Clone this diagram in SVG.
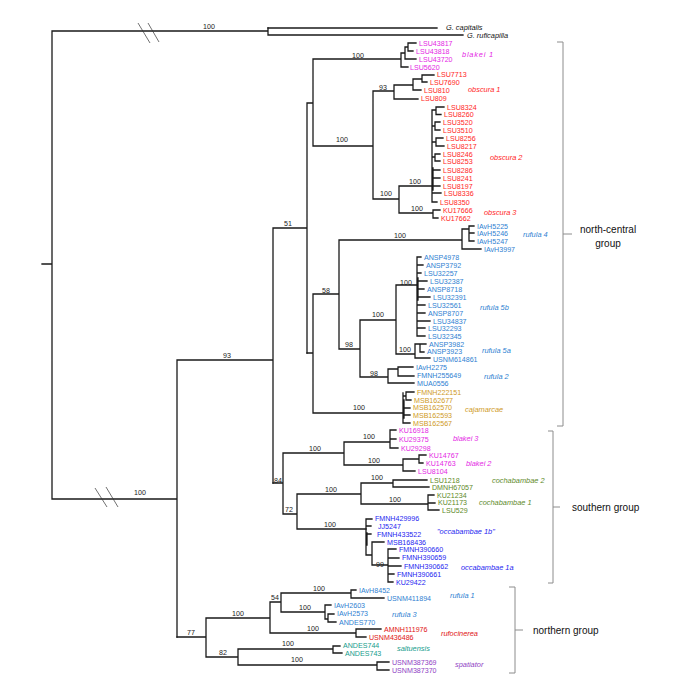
<svg xmlns="http://www.w3.org/2000/svg" width="684" height="700" viewBox="0 0 684 700">
<style>
text{font-family:"Liberation Sans",Arial,sans-serif;font-size:7.1px}
.s{fill:#222;text-anchor:middle}
.sp{font-style:italic;font-size:7.4px}
.grp{font-size:10px;fill:#111}
.br{fill:none;stroke:#1a1a1a;stroke-width:1.3;stroke-linecap:square}
.bk{fill:none;stroke:#8c8c8c;stroke-width:1}
.sl{fill:none;stroke:#333;stroke-width:0.7}
.mg{fill:#e41fe4}.rd{fill:#ff1e1e}.bl{fill:#2f7fd2}.gd{fill:#cf9a1e}.gr{fill:#5e8a2a}.ob{fill:#1e1ef0}.rc{fill:#e01414}.tl{fill:#179c8c}.pu{fill:#8f3fc4}.k{fill:#111}
</style>
<rect width="684" height="700" fill="#fff"/>
<g id="branches">
<path class="br" d="M42,264H52M52,31V499M52,31H268M268,28V35M268,35H463M52,499H177M177,360V637M177,360H273M273,228V483M273,228H307M307,103V353M307,103H313M313,59V146M313,59H401M401,53V67M401,67H408M401,53H405M405,47V59M405,59H416M405,47H408M408,43V51M408,43H416M408,51H413M313,146H373M373,91V199M373,91H394M394,85V99M394,99H418M394,85H413M413,79V90M413,90H421M413,79H422M422,75V82M422,75H434M422,82H427M373,199H399M399,186V213M399,186H432M399,213H433M433,210V218M433,210H440M433,218H438"/>
<path class="br" d="M268,28H437" stroke="#555"/>
<path class="br" d="M432,110V202M433,168V190M432,110H436M436,107V114.5M436,107H444M436,114.5H441M432,126H435M435,122V130M435,122H440M435,130H440M432,142H436M436,138V146M436,138H443M436,146H444M432,157H435M435,154V161M435,154H440M435,161H440M432,170H440M432,178H440M432,186H440M432,193H441M432,202H437"/>
<path class="br" d="M307,353H313M313,294V413M313,294H339M339,240V349M339,240H462M462,229V249M462,229H469M469,226V241M469,226H474M469,233H474M469,241H474M462,249H481M339,349H360M360,320V377M360,320H396M396,285V354M396,285H417M396,354H415M415,344V358M415,344H420M420,344V352M420,344H426M420,352H424M415,358H430M360,377H388M388,369V383M388,369H398M398,367V376M398,367H413M398,376H414M388,383H414M313,413H403"/>
<path class="br" d="M417,257V336M418,278V300M417,257H421M417,265H423M417,273H421M417,281H427M417,289H424M417,297H430M417,305H425M417,313H425M417,321H430M417,328H425M417,336H425"/>
<path class="br" d="M403,393V423M404,400V418M403,396H406M406,392V400M406,392H414M406,400H411M403,408H410M403,415H410M403,423H410"/>
<path class="br" d="M273,483H283M283,453V514M283,453H344M344,442V465M344,442H390M390,430V448M390,430H396M390,439H396M390,448H398M344,465H403M403,459V471M403,459H419M419,455V463M419,455H426M419,463H423M403,471H415M283,514H297M297,494V529M297,494H361M361,483V504M361,483H393M393,480V487M393,480H427M393,487H429M361,504H428M428,495V510M428,495H434M428,503H435M428,510H439M297,529H366"/>
<path class="br" d="M366,519V555M367,533V545M366,519H372M366,526H371M366,534H371M366,555H372M372,542V565M372,542H384M372,565H388M388,549V582M388,549H396M388,558H399M388,566H401M388,574H394M388,582H393"/>
<path class="br" d="M177,637H206M206,618V657M206,618H270M270,602V633M270,602H281M281,593V612M281,593H351M351,590V598M351,590H356M351,598H384M281,612H325M325,605V619M325,605H331M325,619H328M328,614V622M328,614H334M328,622H336M270,633H356M356,629V637M356,629H381M356,637H366M206,657H238M238,649V665M238,649H333M333,646V653M333,646H340M333,653H342M238,665H377M377,662V670M377,662H389M377,670H389"/>
<path class="sl" d="M138,23L150,43M148,23L159,42M95,488L107,507M106,487L118,507"/>
</g>
<g id="brackets">
<path class="bk" d="M557,42H563V426H557M563,234H572"/>
<path class="bk" d="M548,431H553V583H548M553,507H560"/>
<path class="bk" d="M509,587H515V673H509M515,630H523"/>
</g>
<g id="support">
<text class="s" x="209" y="28.5">100</text>
<text class="s" x="140" y="494.5">100</text>
<text class="s" x="227" y="357.5">93</text>
<text class="s" x="191" y="634.5">77</text>
<text class="s" x="288" y="225.5">51</text>
<text class="s" x="278" y="482.5">84</text>
<text class="s" x="358" y="57.5">100</text>
<text class="s" x="342" y="141.5">100</text>
<text class="s" x="383" y="89.5">93</text>
<text class="s" x="386" y="195.5">100</text>
<text class="s" x="415" y="183.5">100</text>
<text class="s" x="417" y="210.5">100</text>
<text class="s" x="400" y="237.5">100</text>
<text class="s" x="326" y="292.5">58</text>
<text class="s" x="349" y="346.5">98</text>
<text class="s" x="378" y="316.5">100</text>
<text class="s" x="406" y="284.5">100</text>
<text class="s" x="405" y="351.5">100</text>
<text class="s" x="374" y="375.5">98</text>
<text class="s" x="359" y="409.5">100</text>
<text class="s" x="315" y="450.5">100</text>
<text class="s" x="369" y="438.5">100</text>
<text class="s" x="374" y="462.5">100</text>
<text class="s" x="289" y="511.5">72</text>
<text class="s" x="331" y="491.5">100</text>
<text class="s" x="377" y="479.5">100</text>
<text class="s" x="395" y="501.5">100</text>
<text class="s" x="330" y="526.5">100</text>
<text class="s" x="380" y="566.5">99</text>
<text class="s" x="238" y="615.5">100</text>
<text class="s" x="275" y="599.5">54</text>
<text class="s" x="319" y="590.5">100</text>
<text class="s" x="305" y="609.5">100</text>
<text class="s" x="313" y="630.5">100</text>
<text class="s" x="223" y="654.5">82</text>
<text class="s" x="288" y="645.5">100</text>
<text class="s" x="297" y="661.5">100</text>
</g>
<g id="outgroup">
<text class="k sp" x="446" y="30">G. capitalis</text>
<text class="k sp" x="467" y="37.5">G. ruficapilla</text>
</g>
<g id="blakei1" class="mg">
<text x="419" y="45.6">LSU43817</text>
<text x="416" y="53.6">LSU43818</text>
<text x="419" y="61.6">LSU43720</text>
<text x="410" y="69.6">LSU5620</text>
<text class="sp" x="462" y="56.6" letter-spacing="0.8">blakei 1</text>
</g>
<g id="obscura1" class="rd">
<text x="437" y="77.1">LSU7713</text>
<text x="430" y="84.6">LSU7690</text>
<text x="424" y="92.6">LSU810</text>
<text x="421" y="100.6">LSU809</text>
<text class="sp" x="468" y="91.6">obscura 1</text>
</g>
<g id="obscura2" class="rd">
<text x="447" y="109.6">LSU8324</text>
<text x="444" y="117.1">LSU8260</text>
<text x="443" y="124.6">LSU3520</text>
<text x="443" y="132.6">LSU3510</text>
<text x="446" y="140.6">LSU8256</text>
<text x="447" y="148.6">LSU8217</text>
<text x="443" y="156.6">LSU8246</text>
<text x="443" y="164.1">LSU8253</text>
<text x="443" y="172.6">LSU8286</text>
<text x="443" y="180.6">LSU8241</text>
<text x="443" y="188.6">LSU8197</text>
<text x="444" y="196.1">LSU8336</text>
<text x="440" y="204.6">LSU8350</text>
<text class="sp" x="490" y="159.6">obscura 2</text>
</g>
<g id="obscura3" class="rd">
<text x="443" y="212.6">KU17666</text>
<text x="441" y="220.6">KU17662</text>
<text class="sp" x="484" y="214.6">obscura 3</text>
</g>
<g id="rufula4" class="bl">
<text x="477" y="228.6">IAvH5225</text>
<text x="477" y="236.1">IAvH5246</text>
<text x="477" y="243.6">IAvH5247</text>
<text x="484" y="251.6">IAvH3997</text>
<text class="sp" x="523" y="236.6">rufula 4</text>
</g>
<g id="rufula5b" class="bl">
<text x="424" y="259.6">ANSP4978</text>
<text x="426" y="267.6">ANSP3792</text>
<text x="424" y="275.6">LSU32257</text>
<text x="430" y="283.6">LSU32387</text>
<text x="427" y="291.6">ANSP8718</text>
<text x="433" y="299.6">LSU32391</text>
<text x="428" y="307.6">LSU32561</text>
<text x="428" y="315.6">ANSP8707</text>
<text x="433" y="323.6">LSU34837</text>
<text x="428" y="331.1">LSU32293</text>
<text x="428" y="338.6">LSU32345</text>
<text class="sp" x="480" y="309.6">rufula 5b</text>
</g>
<g id="rufula5a" class="bl">
<text x="429" y="346.6">ANSP3982</text>
<text x="427" y="354.1">ANSP3923</text>
<text x="433" y="361.6">USNM614861</text>
<text class="sp" x="482" y="352.6">rufula 5a</text>
</g>
<g id="rufula2" class="bl">
<text x="416" y="369.6">IAvH2275</text>
<text x="417" y="378.1">FMNH255649</text>
<text x="417" y="385.6">MUA0556</text>
<text class="sp" x="484" y="378.6">rufula 2</text>
</g>
<g id="cajamarcae" class="gd">
<text x="417" y="394.6">FMNH222151</text>
<text x="414" y="402.6">MSB162677</text>
<text x="413" y="410.1">MSB162570</text>
<text x="413" y="417.6">MSB162593</text>
<text x="413" y="425.6">MSB162567</text>
<text class="sp" x="465" y="411.6">cajamarcae</text>
</g>
<g id="blakei3" class="mg">
<text x="399" y="432.6">KU16918</text>
<text x="399" y="441.6">KU29375</text>
<text x="401" y="450.6">KU29298</text>
<text class="sp" x="453" y="440.6">blakei 3</text>
</g>
<g id="blakei2" class="mg">
<text x="429" y="457.6">KU14767</text>
<text x="426" y="465.6">KU14763</text>
<text x="418" y="473.6">LSU8104</text>
<text class="sp" x="466" y="465.6">blakei 2</text>
</g>
<g id="cochabambae2" class="gr">
<text x="430" y="482.6">LSU1218</text>
<text x="432" y="490.1">DMNH67057</text>
<text class="sp" x="492" y="482.6">cochabambae 2</text>
</g>
<g id="cochabambae1" class="gr">
<text x="437" y="497.6">KU21234</text>
<text x="438" y="505.4">KU21173</text>
<text x="442" y="513.1">LSU529</text>
<text class="sp" x="479" y="504.6">cochabambae 1</text>
</g>
<g id="occabambae" class="ob">
<text x="375" y="521.4">FMNH429996</text>
<text x="378" y="529.0">JJ5247</text>
<text x="377" y="536.6">FMNH433522</text>
<text x="387" y="544.6">MSB168436</text>
<text x="399" y="552.1">FMNH390660</text>
<text x="402" y="560.4">FMNH390659</text>
<text x="404" y="568.6">FMNH390662</text>
<text x="397" y="576.6">FMNH390661</text>
<text x="396" y="584.6">KU29422</text>
<text class="sp" x="437" y="533.6">"occabambae 1b"</text>
<text class="sp" x="461" y="569.6">occabambae 1a</text>
</g>
<g id="rufula1" class="bl">
<text x="359" y="592.6">IAvH8452</text>
<text x="387" y="600.6">USNM411894</text>
<text class="sp" x="450" y="597.6">rufula 1</text>
</g>
<g id="rufula3" class="bl">
<text x="334" y="607.6">IAvH2603</text>
<text x="337" y="616.1">IAvH2573</text>
<text x="339" y="624.6">ANDES770</text>
<text class="sp" x="392" y="616.6">rufula 3</text>
</g>
<g id="rufocinerea" class="rc">
<text x="384" y="631.6">AMNH111976</text>
<text x="369" y="639.6">USNM436486</text>
<text class="sp" x="441" y="635.6">rufocinerea</text>
</g>
<g id="saltuensis" class="tl">
<text x="343" y="648.4">ANDES744</text>
<text x="345" y="656.1">ANDES743</text>
<text class="sp" x="397" y="650.6">saltuensis</text>
</g>
<g id="spatiator" class="pu">
<text x="392" y="664.6">USNM387369</text>
<text x="392" y="672.6">USNM387370</text>
<text class="sp" x="455" y="666.6">spatiator</text>
</g>
<g id="groups">
<text class="grp" x="580" y="232.5">north-central</text>
<text class="grp" x="608" y="246.5" text-anchor="middle">group</text>
<text class="grp" x="572" y="510.5">southern group</text>
<text class="grp" x="533" y="633.5">northern group</text>
</g>
</svg>
